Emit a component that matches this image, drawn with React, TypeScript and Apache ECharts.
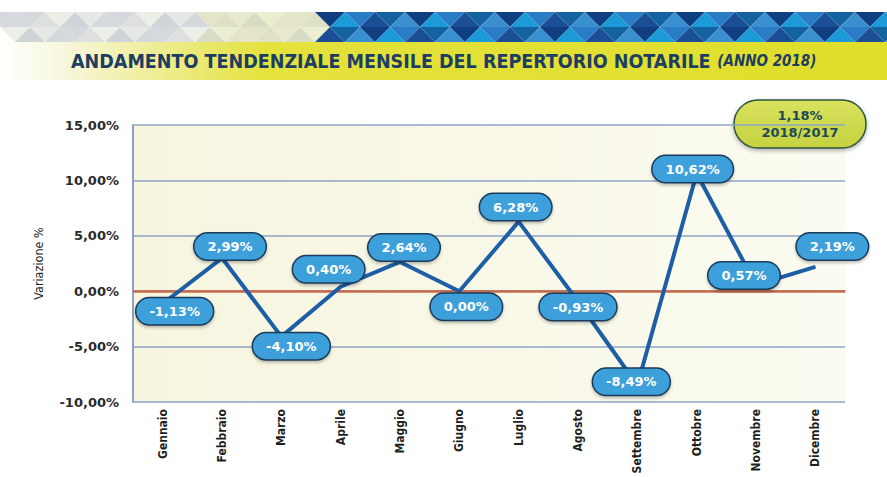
import React, { useEffect, useRef } from "react";
import * as echarts from "echarts";

const months = ["Gennaio", "Febbraio", "Marzo", "Aprile", "Maggio", "Giugno", "Luglio", "Agosto", "Settembre", "Ottobre", "Novembre", "Dicembre"];
const variation = [-1.13, 2.99, -4.1, 0.4, 2.64, 0.0, 6.28, -0.93, -8.49, 10.62, 0.57, 2.19];
const labelOffsets: [number, number][] = [[12, 8], [8, -11], [10, 10], [-12, -17], [4, -14], [7, 16], [-3, -14], [0, 6], [-6, -3], [-4, -4], [-12, -9], [17, -20]];
const yearNote = ["1,18%", "2018/2017"];
const titleMain = "ANDAMENTO TENDENZIALE MENSILE DEL REPERTORIO NOTARILE";
const titleSub = "(ANNO 2018)";

const fmt = (v: number) => v.toFixed(2).replace(".", ",") + "%";

function bannerTriangles() {
  const els: any[] = [];
  const w = 30, h = 15, top = 12;
  const blues = ["#1a4f95", "#2b7cc6", "#1c9ad8", "#0f3f80", "#3a8fd0", "#14629f"];
  const grays = ["#d5d9dd", "#e6e8e6", "#cfd4d8", "#eceee8", "#dde0de"];
  for (let r = 0; r < 2; r++) {
    for (let i = -1; i < 62; i++) {
      const x0 = i * (w / 2);
      const up = (i + r) % 2 === 0;
      const y0 = top + r * h;
      const pts = up
        ? [[x0, y0 + h], [x0 + w / 2, y0], [x0 + w, y0 + h]]
        : [[x0, y0], [x0 + w / 2, y0 + h], [x0 + w, y0]];
      const cx = x0 + w / 2;
      const edge = 312 + (r * h + h / 2) * 0.6;
      const idx = (i * 5 + r * 3) % 6;
      const blue = cx > edge;
      let fill = blue ? blues[idx] : grays[idx % 5];
      if (!blue && cx > 200) fill = ["#e3e4c8", "#eceed0", "#d9dcc4", "#e8e9cc", "#dfe1c6"][idx % 5];
      els.push({ type: "polygon", shape: { points: pts }, style: { fill }, silent: true });
    }
  }
  return els;
}

export default function App() {
  const ref = useRef<HTMLDivElement>(null);
  useEffect(() => {
    if (!ref.current) return;
    const chart = echarts.init(ref.current, null, { renderer: "svg" });
    const cond = "'DejaVu Sans Condensed', 'DejaVu Sans', sans-serif";
    chart.setOption({
      animation: false,
      backgroundColor: "#ffffff",
      grid: {
        left: 133, right: 42, top: 125, bottom: 75,
        outerBoundsMode: "none",
        containLabel: false,
        show: true, borderWidth: 0,
        backgroundColor: {
          type: "linear", x: 0, y: 0, x2: 1, y2: 0,
          colorStops: [{ offset: 0, color: "#f6f5df" }, { offset: 1, color: "#fbfbf1" }],
        },
      },
      xAxis: {
        type: "category",
        data: months,
        boundaryGap: true,
        axisLine: { show: true, lineStyle: { color: "#9aa6b4", width: 2 } },
        axisTick: { show: false },
        axisLabel: { rotate: 90, margin: 7, color: "#1f1f1f", fontFamily: cond, fontWeight: "bold", fontSize: 12 },
      },
      yAxis: {
        type: "value",
        min: -10, max: 15, interval: 5,
        name: "Variazione %",
        nameLocation: "middle",
        nameGap: 88,
        nameTextStyle: { color: "#222", fontFamily: cond, fontSize: 12.5 },
        axisLine: { show: true, lineStyle: { color: "#8ea3c2", width: 2 } },
        axisTick: { show: false },
        axisLabel: { formatter: (v: number) => fmt(v), color: "#2a2a2a", fontFamily: "'DejaVu Sans', sans-serif", fontWeight: "bold", fontSize: 13, margin: 14 },
        splitLine: { lineStyle: { color: "#8fa4c6", width: 1.5 } },
      },
      series: [
        {
          type: "line",
          data: variation,
          symbol: "circle",
          symbolSize: 1,
          showSymbol: true,
          showAllSymbol: true,
          itemStyle: { color: "#1d5ea6" },
          lineStyle: { color: "#1d5ea6", width: 4 },
          label: {
            show: true,
            position: "top",
            distance: 0,
            align: "center",
            verticalAlign: "middle",
            formatter: (p: any) => fmt(p.value),
            color: "#ffffff",
            fontFamily: "'DejaVu Sans', sans-serif",
            fontWeight: "bold",
            fontSize: 13,
            backgroundColor: "#3da0da",
            borderColor: "#1a3b5a",
            borderWidth: 1.5,
            borderRadius: 14,
            padding: [7, 13, 6, 13],
            shadowColor: "rgba(0,0,0,0.25)",
            shadowBlur: 3,
            shadowOffsetY: 2,
          },
          labelLayout: (p: any) => ({
            dx: labelOffsets[p.dataIndex][0],
            dy: labelOffsets[p.dataIndex][1],
            hideOverlap: false,
          }),
          markLine: {
            silent: true,
            symbol: "none",
            label: { show: false },
            lineStyle: { color: "#c86a4a", width: 2.5, type: "solid" },
            data: [{ yAxis: 0 }],
            z: 1,
          },
          z: 3,
        },
      ],
      graphic: [
        {
          type: "rect",
          shape: { x: 0, y: 42, width: 887, height: 38 },
          style: {
            fill: {
              type: "linear", x: 0, y: 0, x2: 1, y2: 0,
              colorStops: [
                { offset: 0, color: "#ffffff" },
                { offset: 0.08, color: "#f6f6d8" },
                { offset: 0.3, color: "#e4e23c" },
                { offset: 1, color: "#e0de2a" },
              ],
            },
          },
          silent: true,
        },
        ...bannerTriangles(),
        {
          type: "text",
          x: 71, y: 61,
          style: {
            text: "{a|" + titleMain + "}  {b|" + titleSub + "}",
            verticalAlign: "middle",
            rich: {
              a: { fontFamily: cond, fontWeight: "bold", fontSize: 19.5, fill: "#1d3d62", color: "#1d3d62" },
              b: { fontFamily: cond, fontWeight: "bold", fontStyle: "italic", fontSize: 15, fill: "#1d3d62", color: "#1d3d62" },
            },
          },
        },
        {
          type: "group",
          x: 800, y: 124,
          children: [
            {
              type: "rect",
              shape: { x: -66, y: -24, width: 132, height: 48, r: 24 },
              style: {
                fill: {
                  type: "linear", x: 0, y: 0, x2: 0, y2: 1,
                  colorStops: [{ offset: 0, color: "#d8e25e" }, { offset: 1, color: "#c5d240" }],
                },
                stroke: "#2e5640", lineWidth: 1.5,
                shadowColor: "rgba(0,0,0,0.3)", shadowBlur: 4, shadowOffsetY: 2,
              },
            },
            {
              type: "text",
              x: 0, y: 0,
              style: {
                text: yearNote.join("\n"),
                align: "center", verticalAlign: "middle",
                fontFamily: "'DejaVu Sans', sans-serif", fontWeight: "bold", fontSize: 13,
                lineHeight: 17,
                fill: "#1e4a58",
              },
            },
          ],
        },
      ],
    });
    return () => chart.dispose();
  }, []);
  return <div ref={ref} style={{ position: "fixed", left: 0, top: 0, width: 887, height: 477 }} />;
}
